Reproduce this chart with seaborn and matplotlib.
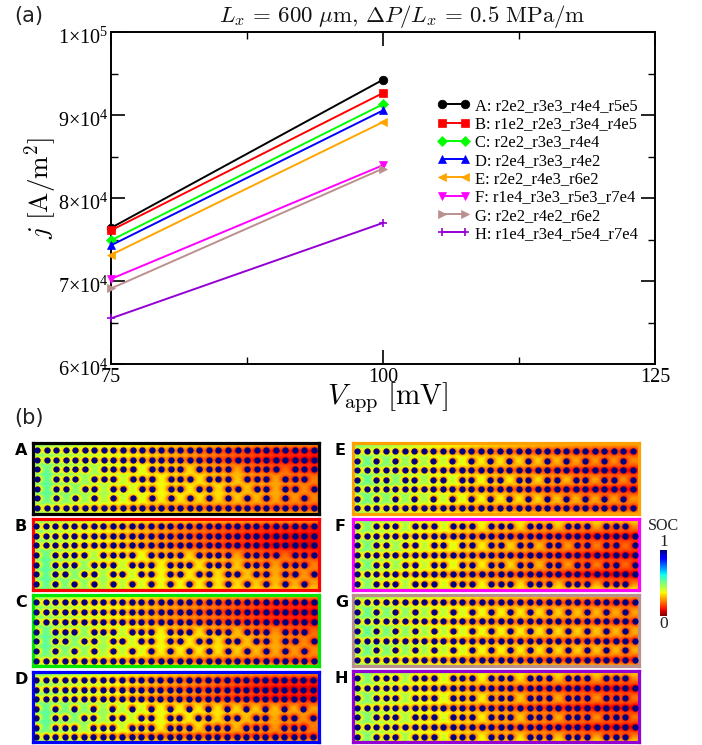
import numpy as np
import pandas as pd
import matplotlib
matplotlib.use("Agg")
import matplotlib.pyplot as plt
from matplotlib.transforms import ScaledTranslation
import seaborn as sns

W, H = 702, 745
sns.set_theme(style="white")
plt.rcParams["font.family"] = ["Liberation Serif", "DejaVu Serif"]
plt.rcParams["mathtext.fontset"] = "stix"

# ---------- panel (a) data ----------
v_app = [75, 100]
series_names = ["A: r2e2_r3e3_r4e4_r5e5", "B: r1e2_r2e3_r3e4_r4e5", "C: r2e2_r3e3_r4e4",
                "D: r2e4_r3e3_r4e2", "E: r2e2_r4e3_r6e2", "F: r1e4_r3e3_r5e3_r7e4",
                "G: r2e2_r4e2_r6e2", "H: r1e4_r3e4_r5e4_r7e4"]
j_A = [76400, 94250]
j_B = [76100, 92650]
j_C = [74900, 91300]
j_D = [74300, 90550]
j_E = [73150, 89150]
j_F = [70250, 83950]
j_G = [69100, 83550]
j_H = [65500, 77000]
series_colors = ["black", "#ff0000", "#00ff00", "#0000ff", "#ffa500", "#ff00ff", "#bc8f8f", "#9400d3"]
series_markers = ["o", "s", "D", "^", "<", "v", ">", "+"]
series_sizes = [6.2, 5.8, 5.6, 6.0, 6.0, 6.0, 6.0, 6.0]
y_major = [60000, 70000, 80000, 90000, 100000]
y_major_labels = [(6, 4), (7, 4), (8, 4), (9, 4), (1, 5)]
y_minor = [65000, 75000, 85000, 95000]
x_major = [75, 100, 125]
x_minor = [87.5, 112.5]

# ---------- panel (b) data: dot patterns (column indices on a 30-column lattice) ----------
ALL = list(range(30))
EVN = list(range(0, 30, 2))
P4 = [0, 2, 3, 4, 6, 7, 8, 10, 11, 12, 14, 15, 16, 18, 19, 20, 22, 23, 24, 26, 27, 28]
P3 = [0, 2, 3, 4, 5, 7, 8, 9, 10, 12, 13, 14, 15, 17, 18, 19, 20, 22, 23, 24, 25, 27, 28, 29]
P5 = [0, 2, 3, 5, 6, 8, 9, 11, 12, 14, 15, 17, 18, 20, 21, 23, 24, 26, 27, 29]
dots_A = [ALL, ALL, P3, P4, P5, EVN, ALL]
dots_B = [ALL, ALL, ALL, P3, P4, P5, EVN]
dots_C = [ALL, ALL, ALL, P4, P5, EVN, ALL]
dots_D = [ALL, ALL, ALL, EVN, P5, P4, ALL]
dots_E = [ALL, EVN, ALL, P5, ALL, EVN, ALL]
dots_F = [P4, ALL, P5, ALL, P5, ALL, P4]
dots_G = [ALL, EVN, ALL, EVN, ALL, EVN, ALL]
dots_H = [P4, ALL, P4, ALL, P4, ALL, P4]

# estimated SOC level: rows = top edge, seven lattice rows, bottom edge; columns run left to right
soc_A = [[.50, .42, .36, .33, .30, .30], [.54, .45, .33, .24, .17, .14], [.54, .45, .33, .23, .15, .11],
         [.55, .45, .36, .30, .22, .17], [.56, .45, .36, .33, .27, .22], [.56, .45, .36, .33, .28, .22],
         [.55, .45, .36, .33, .28, .23], [.52, .40, .30, .26, .24, .20], [.50, .42, .36, .34, .32, .30]]
soc_B = [[.50, .42, .36, .33, .30, .30], [.52, .40, .30, .22, .17, .14], [.54, .40, .28, .20, .13, .10],
         [.54, .40, .28, .20, .13, .09], [.55, .43, .35, .30, .22, .18], [.56, .45, .36, .33, .27, .22],
         [.56, .46, .36, .33, .28, .24], [.56, .46, .37, .34, .30, .26], [.52, .43, .37, .35, .32, .30]]
soc_C = [[.50, .42, .36, .33, .30, .28], [.54, .43, .32, .24, .17, .14], [.54, .43, .30, .22, .15, .12],
         [.54, .43, .30, .24, .17, .13], [.55, .46, .36, .32, .26, .20], [.56, .46, .36, .33, .28, .22],
         [.55, .46, .36, .34, .28, .24], [.52, .40, .30, .26, .24, .22], [.50, .42, .36, .34, .32, .30]]
soc_D = [[.50, .42, .36, .33, .30, .28], [.54, .43, .30, .22, .15, .13], [.54, .43, .30, .22, .14, .11],
         [.54, .43, .30, .22, .15, .12], [.55, .47, .37, .34, .30, .26], [.56, .47, .37, .33, .28, .23],
         [.55, .45, .36, .31, .26, .22], [.52, .38, .28, .24, .22, .20], [.50, .40, .35, .33, .30, .28]]
soc_E = [[.50, .40, .34, .30, .28, .27], [.52, .43, .30, .24, .20, .18], [.55, .46, .36, .32, .26, .24],
         [.54, .43, .30, .22, .16, .13], [.56, .47, .38, .34, .28, .24], [.54, .43, .30, .22, .16, .13],
         [.55, .46, .37, .33, .28, .25], [.52, .40, .30, .26, .22, .20], [.50, .40, .35, .32, .30, .28]]
soc_F = [[.50, .40, .36, .34, .34, .34], [.52, .43, .36, .32, .28, .24], [.52, .40, .28, .20, .15, .12],
         [.54, .43, .36, .30, .24, .20], [.52, .40, .30, .22, .15, .13], [.54, .43, .36, .30, .24, .20],
         [.52, .38, .28, .20, .13, .10], [.52, .43, .36, .32, .28, .24], [.50, .40, .36, .34, .34, .34]]
soc_G = [[.50, .42, .36, .33, .30, .28], [.52, .43, .32, .26, .22, .18], [.55, .47, .38, .34, .30, .27],
         [.54, .43, .32, .27, .24, .20], [.56, .47, .38, .35, .32, .28], [.54, .43, .32, .27, .24, .20],
         [.55, .47, .38, .35, .32, .28], [.52, .40, .30, .24, .20, .17], [.50, .42, .35, .32, .30, .28]]
soc_H = [[.50, .40, .36, .34, .33, .32], [.52, .43, .36, .32, .28, .24], [.52, .40, .28, .20, .15, .12],
         [.52, .43, .36, .30, .26, .22], [.52, .40, .28, .20, .14, .12], [.52, .43, .36, .30, .26, .22],
         [.52, .40, .28, .20, .14, .12], [.52, .43, .36, .32, .28, .24], [.50, .40, .36, .34, .33, .32]]

panel_names = ["A", "B", "C", "D", "E", "F", "G", "H"]
panel_colors = ["black", "#ff0000", "#00e800", "#0000ff", "#ffa000", "#ff00ff", "#bc8f8f", "#9400d3"]
panel_dots = [dots_A, dots_B, dots_C, dots_D, dots_E, dots_F, dots_G, dots_H]
panel_soc = [soc_A, soc_B, soc_C, soc_D, soc_E, soc_F, soc_G, soc_H]

# ---------- layout, in reference pixels ----------
def box(l, t, r, b):
    return [l / W, 1 - b / H, (r - l) / W, (b - t) / H]

fig = plt.figure(figsize=(W / 100, H / 100), dpi=100)

ax = fig.add_axes(box(111, 32, 655, 364))
for name, c, m, ms, vals in zip(series_names, series_colors, series_markers, series_sizes,
                                [j_A, j_B, j_C, j_D, j_E, j_F, j_G, j_H]):
    df = pd.DataFrame({"V": v_app, "j": vals})
    sns.lineplot(data=df, x="V", y="j", color=c, marker=m, markersize=ms, linewidth=1.4,
                 markeredgecolor=c, markeredgewidth=1.2 if m == "+" else 0.5,
                 errorbar=None, clip_on=False, ax=ax, label=name, zorder=3)
ax.set_xlim(75, 125)
ax.set_ylim(60000, 100000)
ax.set_xticks(x_major)
ax.set_xticks(x_minor, minor=True)
ax.set_yticks(y_major)
ax.set_yticks(y_minor, minor=True)
ax.set_xticklabels([str(v) for v in x_major], fontsize=14.5)
ax.set_yticklabels([f"$\\mathdefault{{{a}{{\\times}}10^{{{e}}}}}$" for a, e in y_major_labels], fontsize=14.5)
ax.tick_params(which="major", direction="in", length=10, width=1.2, top=True, right=True, bottom=True, left=True,
               color="black", labelcolor="black")
ax.tick_params(which="minor", direction="in", length=5, width=1.0, top=True, right=True, bottom=True, left=True,
               color="black")
ax.tick_params(axis="y", which="major", pad=2)
ax.tick_params(axis="x", which="major", pad=3)
offset = ScaledTranslation(0, -4 / 100, fig.dpi_scale_trans)
for lab in ax.get_yticklabels():
    lab.set_transform(lab.get_transform() + offset)
for s in ax.spines.values():
    s.set_visible(True)
    s.set_color("black")
    s.set_linewidth(1.4)
ax.set_xlabel("")
ax.set_ylabel("")
fig.text(388 / W, 1 - 398 / H, r"$V_{\mathrm{app}}\ [\mathrm{mV}]$", fontsize=21, ha="center", va="center",
         color="black", math_fontfamily="cm")
fig.text(41 / W, 1 - 188 / H, r"$j\ [\mathrm{A/m}^2]$", fontsize=19.5, rotation=90, ha="center", va="center",
         color="black", math_fontfamily="cm")
fig.text(402 / W, 1 - 16.5 / H, r"$L_x\,=\,600\ \mu\mathrm{m},\,\Delta P/L_x\,=\,0.5\ \mathrm{MPa/m}$", fontsize=16.5,
         ha="center", va="center", color="#111111", math_fontfamily="cm")
fig.text(14 / W, 1 - 16 / H, "(a)", fontsize=15, family="DejaVu Sans", ha="left", va="center", color="#222222")
fig.text(14 / W, 1 - 418 / H, "(b)", fontsize=15, family="DejaVu Sans", ha="left", va="center", color="#222222")

leg = ax.legend(loc="upper left", bbox_to_anchor=(437 / W, 1 - 98 / H), bbox_transform=fig.transFigure,
                frameon=False, numpoints=2, fontsize=11.85, labelspacing=0.14, handlelength=2.0, handletextpad=0.3,
                borderpad=0, borderaxespad=0, labelcolor="black")

# frames: (left, top, right, bottom, first lattice row y, last lattice row y, first col x, last col x)
frames = [(31.3, 441.3, 321, 515.3, 450, 508, 37, 314),
          (31.3, 517.3, 321, 591.3, 526, 584, 36, 314),
          (31.3, 593.3, 321, 667.3, 602, 661, 36, 314),
          (31.3, 670, 321, 744, 680, 737, 36, 313),
          (351, 441.3, 641, 515.3, 451, 508, 357, 633),
          (351, 517.3, 641, 591.3, 526, 584, 357, 635),
          (351, 593.3, 641, 667.3, 602, 660, 357, 635),
          (351, 669.3, 641, 743.3, 678, 737, 357, 635)]
letter_x = [15, 15, 15, 15, 335, 335, 335, 335]
FW = 1.6  # half width of the frame, pixels


def fine_field(soc, dots, xlim, ylim, nx=300, ny=80):
    soc = np.asarray(soc, float)
    gx = np.linspace(xlim[0], xlim[1], nx)
    gy = np.linspace(ylim[0], ylim[1], ny)
    row_pos = np.array([ylim[0]] + list(range(7)) + [ylim[1]])
    col_pos = xlim[0] + (xlim[1] - xlim[0]) * np.array([0, .24, .44, .64, .82, 1])
    by_row = np.array([np.interp(gx, col_pos, r) for r in soc])
    base = np.array([np.interp(gy, row_pos, by_row[:, i]) for i in range(nx)]).T
    X, Y = np.meshgrid(gx, gy)
    halo = np.zeros_like(base)
    for r, cols in enumerate(dots):
        for c in cols:
            halo = np.maximum(halo, np.exp(-((X - c) ** 2 / (2 * 0.34 ** 2) + (Y - r) ** 2 / (2 * 0.26 ** 2))))
    return base * (1 - 0.72 * halo)


for name, color, dots, soc, fr, lx in zip(panel_names, panel_colors, panel_dots, panel_soc, frames, letter_x):
    l, t, r, b, y0, y1, x0, x1 = fr
    pa = fig.add_axes(box(l + FW, t + FW, r - FW, b - FW))
    dx = (x1 - x0) / 29
    dy = (y1 - y0) / 6
    xlim = ((l + FW - x0) / dx, (r - FW - x0) / dx)
    ylim = ((t + FW - y0) / dy, (b - FW - y0) / dy)
    pa.imshow(fine_field(soc, dots, xlim, ylim), cmap="jet_r", vmin=0, vmax=1, aspect="auto",
              interpolation="bilinear", extent=(xlim[0], xlim[1], ylim[1], ylim[0]))
    cols = [c for row in dots for c in row]
    rows = [i for i, row in enumerate(dots) for _ in row]
    sns.scatterplot(x=cols, y=rows, s=20, color="#00007f", linewidth=0, ax=pa, legend=False, zorder=3)
    pa.set_xlim(*xlim)
    pa.set_ylim(ylim[1], ylim[0])
    pa.set_xticks([])
    pa.set_yticks([])
    pa.grid(False)
    for s in pa.spines.values():
        s.set_visible(True)
        s.set_color(color)
        s.set_linewidth(FW * 2 * 0.72)
    fig.text(lx / W, 1 - (t + 9) / H, name, fontsize=11.5, fontweight="bold", family="DejaVu Sans",
             ha="left", va="center", color="black")

# colour bar
cax = fig.add_axes(box(660, 550, 667, 616))
sm = plt.cm.ScalarMappable(norm=plt.Normalize(0, 1), cmap="jet_r")
cb = fig.colorbar(sm, cax=cax)
cb.set_ticks([])
cb.outline.set_visible(False)
fig.text(663.5 / W, 1 - 526.5 / H, "SOC", fontsize=11.5, ha="center", va="center", color="#222222")
fig.text(663.5 / W, 1 - 542 / H, "1", fontsize=12.5, ha="center", va="center", color="#222222")
fig.text(663.5 / W, 1 - 624 / H, "0", fontsize=12.5, ha="center", va="center", color="#222222")

fig.savefig("out.png", dpi=100)
